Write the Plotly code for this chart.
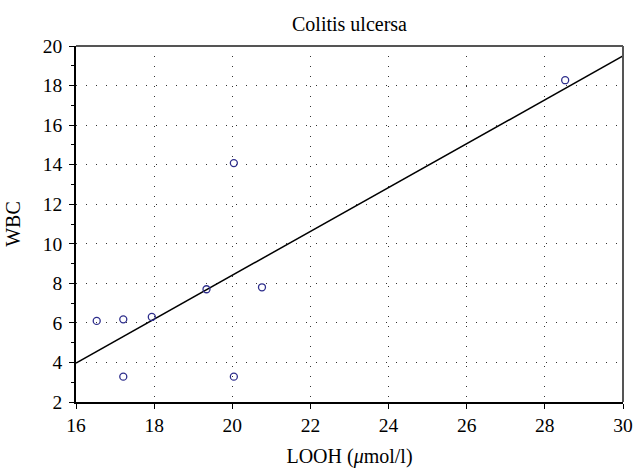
import numpy as np
import plotly.graph_objects as go

# Data
looh = [16.53, 17.21, 17.21, 17.94, 19.34, 20.04, 20.76, 20.04, 28.52]
wbc = [6.10, 6.18, 3.28, 6.30, 7.70, 3.28, 7.80, 14.08, 18.27]

x_range = [16, 30]
y_range = [2, 20]
x_ticks = [16, 18, 20, 22, 24, 26, 28, 30]
y_ticks = [2, 4, 6, 8, 10, 12, 14, 16, 18, 20]

# Least-squares regression line across the x range
slope, intercept = np.polyfit(looh, wbc, 1)
fit_x = np.array(x_range, dtype=float)
fit_y = slope * fit_x + intercept

FONT = "Liberation Serif"

fig = go.Figure()
fig.add_trace(go.Scatter(
    x=fit_x, y=fit_y, mode="lines",
    line=dict(color="black", width=1.5),
    hoverinfo="skip", showlegend=False, cliponaxis=True,
))
fig.add_trace(go.Scatter(
    x=looh, y=wbc, mode="markers",
    marker=dict(symbol="circle-open", size=7, color="#2e2e8c",
                line=dict(width=1.3, color="#2e2e8c")),
    showlegend=False, cliponaxis=False,
))

grid_common = dict(
    showgrid=True, gridcolor="#333333", gridwidth=1.3, griddash="1.3px,8.7px",
    zeroline=False, showline=True, linecolor="black", linewidth=1.5,
    ticks="outside", ticklen=5, tickwidth=1.2, tickcolor="black",
    tickfont=dict(family=FONT, size=19.5, color="black"),
    automargin=False,
)

fig.update_layout(
    width=634, height=472,
    margin=dict(l=76, r=11, t=46, b=70),
    paper_bgcolor="white", plot_bgcolor="white",
    title=dict(text="Colitis ulcersa", x=0.5, xref="paper", xanchor="center",
               y=0.949, yref="container", yanchor="middle",
               font=dict(family=FONT, size=20, color="black")),
    xaxis=dict(range=x_range, tickvals=x_ticks, **grid_common,
               title=dict(text="LOOH (<i>μ</i>mol/l)", standoff=14,
                          font=dict(family=FONT, size=20, color="black"))),
    yaxis=dict(range=y_range, tickvals=y_ticks, **grid_common,
               ticklabelstandoff=3,
               minor=dict(dtick=1, ticks="outside", ticklen=3, tickwidth=1,
                          tickcolor="black", showgrid=False),
               title=dict(text="WBC", standoff=17,
                          font=dict(family=FONT, size=20, color="black"))),
    shapes=[
        dict(type="line", xref="x domain", yref="y domain", x0=0, x1=1, y0=1, y1=1,
             line=dict(color="#555555", width=2.2)),
        dict(type="line", xref="x domain", yref="y domain", x0=1, x1=1, y0=0, y1=1,
             line=dict(color="#555555", width=2)),
    ],
)

fig.write_html("out.html")
